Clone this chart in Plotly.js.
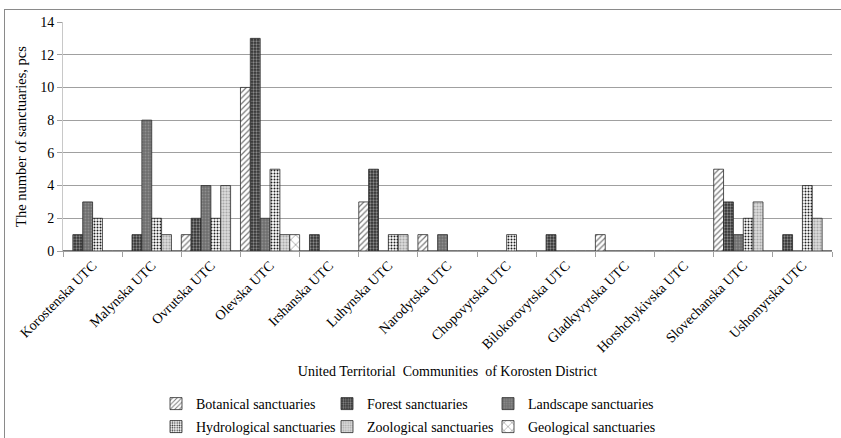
<!DOCTYPE html>
<html>
<head>
<meta charset="utf-8">
<script src="https://cdn.plot.ly/plotly-3.0.1.min.js"></script>
<style>
  html, body { margin: 0; padding: 0; background: #fff; }
  #chart { width: 841px; height: 438px; position: absolute; left: 0; top: 0; }
  #frame { position: absolute; left: 4px; top: 9px; width: 845px; height: 440px;
           border-left: 1px solid #8a8a8a; border-top: 1px solid #8a8a8a; pointer-events: none; }
</style>
</head>
<body>
<div id="chart"></div>
<div id="frame"></div>
<script>
const communities = ["Korostenska UTC", "Malynska UTC", "Ovrutska UTC", "Olevska UTC", "Irshanska UTC",
  "Luhynska UTC", "Narodytska UTC", "Chopovytska UTC", "Bilokorovytska UTC", "Gladkyvytska UTC",
  "Horshchykivska UTC", "Slovechanska UTC", "Ushomyrska UTC"];

const seriesNames = ["Botanical sanctuaries", "Forest sanctuaries", "Landscape sanctuaries",
  "Hydrological sanctuaries", "Zoological sanctuaries", "Geological sanctuaries"];

const botanical    = [0, 0, 1, 10, 0, 3, 1, 0, 0, 1, 0, 5, 0];
const forest       = [1, 1, 2, 13, 1, 5, 0, 0, 1, 0, 0, 3, 1];
const landscape    = [3, 8, 4, 2, 0, 0, 1, 0, 0, 0, 0, 1, 0];
const hydrological = [2, 2, 2, 5, 0, 1, 0, 1, 0, 0, 0, 2, 4];
const zoological   = [0, 1, 4, 1, 0, 1, 0, 0, 0, 0, 0, 3, 2];
const geological   = [0, 0, 0, 1, 0, 0, 0, 0, 0, 0, 0, 0, 0];

const values = [botanical, forest, landscape, hydrological, zoological, geological];

const patterns = [
  {shape: "/", bgcolor: "#ffffff", fgcolor: "#7a7a7a", size: 4, solidity: 0.3},
  {shape: ".", bgcolor: "#303030", fgcolor: "#8a8a8a", size: 3, solidity: 0.45},
  {shape: ".", bgcolor: "#6e6e6e", fgcolor: "#8e8e8e", size: 3, solidity: 0.35},
  {shape: ".", bgcolor: "#ffffff", fgcolor: "#1e1e1e", size: 3, solidity: 0.35},
  {shape: ".", bgcolor: "#dcdcdc", fgcolor: "#a8a8a8", size: 3, solidity: 0.4},
  {shape: "x", bgcolor: "#ffffff", fgcolor: "#6a6a6a", size: 7, solidity: 0.15}
];

const legendIds = ["legend", "legend2", "legend3", "legend4", "legend5", "legend6"];
// text start x (px) and row centre y (px) of each legend entry
const legendTextX = [196, 367, 528, 196, 367, 528];
const legendRowY  = [404, 404, 404, 427, 427, 427];

const font = "Liberation Serif, Times New Roman, serif";
const W = 841, H = 438;

const traces = seriesNames.map((name, i) => ({
  type: "bar",
  name: name,
  x: communities,
  y: values[i],
  legend: legendIds[i],
  marker: {
    color: patterns[i].bgcolor,
    pattern: patterns[i],
    line: {color: "#2a2a2a", width: 0.8}
  },
  hoverinfo: "x+y+name"
}));

const layout = {
  width: W, height: H,
  margin: {l: 63, r: 9, t: 22, b: 187},
  paper_bgcolor: "#ffffff",
  plot_bgcolor: "#ffffff",
  barmode: "group",
  bargap: 0,
  bargroupgap: 0,
  font: {family: font, size: 14, color: "#000"},
  xaxis: {
    type: "category",
    tickangle: -45,
    tickson: "boundaries",
    ticks: "outside",
    ticklen: 5,
    tickcolor: "#a0a0a0",
    showline: true,
    linecolor: "#a0a0a0",
    linewidth: 1,
    showgrid: false,
    tickfont: {family: font, size: 14, color: "#000"},
    title: {text: "United Territorial  Communities  of Korosten District",
            font: {family: font, size: 14, color: "#000"}, standoff: 11},
    automargin: false
  },
  yaxis: {
    range: [0, 14],
    dtick: 2,
    ticks: "outside",
    ticklen: 5,
    tickcolor: "#a0a0a0",
    showline: true,
    linecolor: "#c8c8c8",
    linewidth: 1,
    showgrid: true,
    gridcolor: "#a0a0a0",
    gridwidth: 1,
    zeroline: false,
    tickfont: {family: font, size: 14, color: "#000"},
    title: {text: "The number of sanctuaries, pcs",
            font: {family: font, size: 14.5, color: "#000"}, standoff: 10},
    automargin: false
  },
  showlegend: true
};

legendIds.forEach((id, i) => {
  layout[id] = {
    orientation: "h",
    xref: "container", yref: "container",
    x: (legendTextX[i] - 40) / W, xanchor: "left",
    y: 1 - legendRowY[i] / H, yanchor: "middle",
    itemwidth: 30,
    font: {family: font, size: 14, color: "#000"},
    bgcolor: "rgba(0,0,0,0)",
    borderwidth: 0
  };
});

Plotly.newPlot("chart", traces, layout, {displayModeBar: false, staticPlot: true});
</script>
</body>
</html>
